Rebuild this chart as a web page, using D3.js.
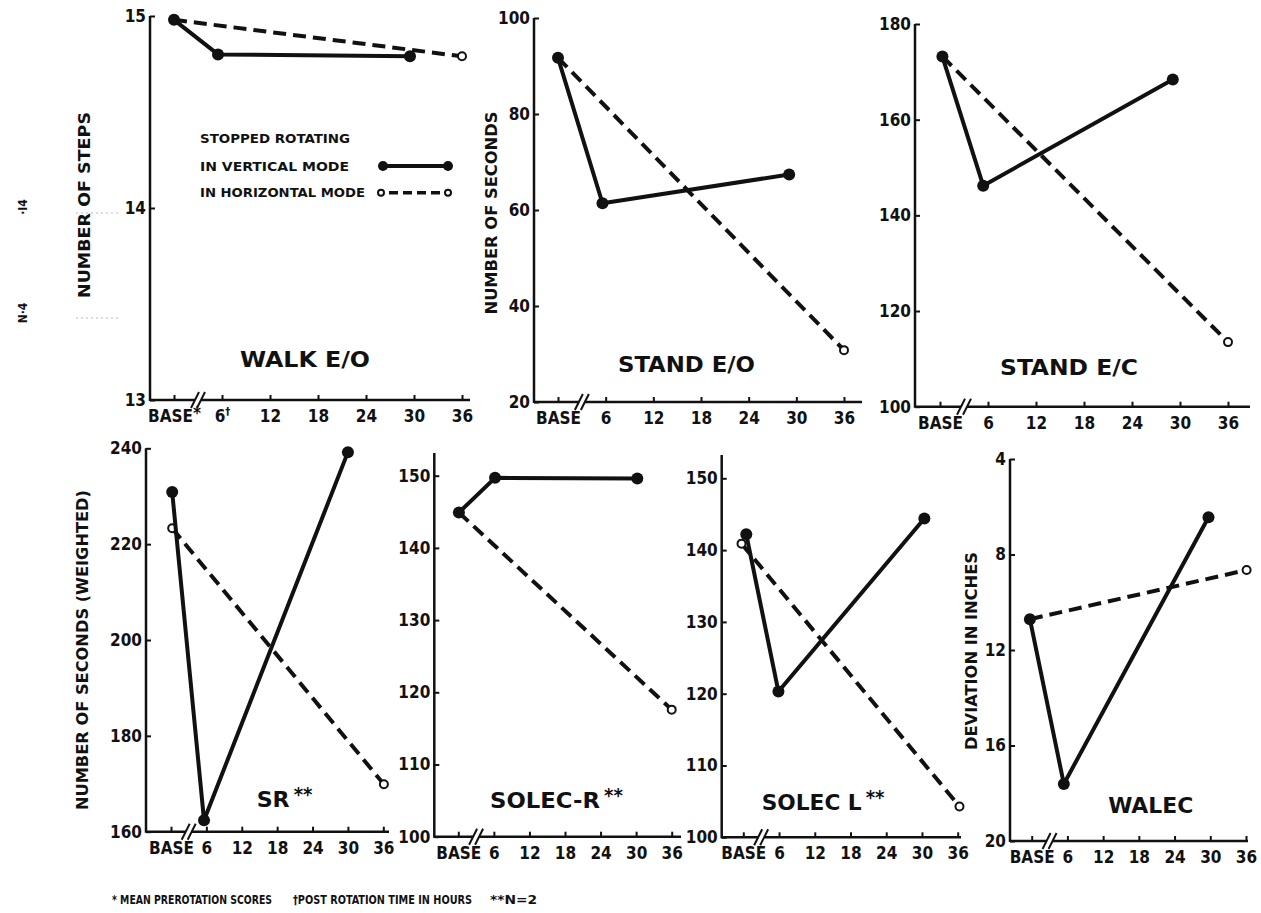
<!DOCTYPE html>
<html>
<head>
<meta charset="utf-8">
<script src="https://cdn.jsdelivr.net/npm/d3@7/dist/d3.min.js"></script>
<style>
  html, body { margin: 0; padding: 0; background: #fff; }
  svg { display: block; }
  text { fill: #111; font-family: "DejaVu Sans Condensed", "Liberation Sans Narrow", "DejaVu Sans", sans-serif; }
</style>
</head>
<body>
<svg id="chart" width="1261" height="913"></svg>
<script>
// ---- data ----------------------------------------------------------------
const titles      = ["WALK E/O", "STAND E/O", "STAND E/C", "SR", "SOLEC-R", "SOLEC L", "WALEC"];
const titleMarks  = ["", "", "", "**", "**", "**", ""];
const yLabels     = ["NUMBER OF STEPS", "NUMBER OF SECONDS", "", "NUMBER OF SECONDS (WEIGHTED)", "", "", "DEVIATION IN INCHES"];
const yDomains    = [[13, 15], [20, 100], [100, 180], [160, 240], [100, 150], [100, 150], [20, 4]];
const yTickValues = [
  [13, 14, 15],
  [20, 40, 60, 80, 100],
  [100, 120, 140, 160, 180],
  [160, 180, 200, 220, 240],
  [100, 110, 120, 130, 140, 150],
  [100, 110, 120, 130, 140, 150],
  [20, 16, 12, 8, 4]
];
const hourTicks  = [0, 6, 12, 18, 24, 30, 36];
const hourLabels = ["BASE", "6", "12", "18", "24", "30", "36"];

// stopped rotating in vertical mode (solid line, filled dots)
const verticalHours  = [[0, 5.5, 29.5], [0, 5.6, 29.1], [0.3, 5.4, 29.1], [0.2, 5.6, 30], [0.1, 6.2, 30.2], [0.5, 5.9, 30.4], [-0.3, 5.4, 29.7]];
const verticalScores = [[14.98, 14.80, 14.79], [91.7, 61.4, 67.4], [173.2, 146.2, 168.4], [230.9, 162.4, 239.2], [144.9, 149.7, 149.6], [142.2, 120.3, 144.4], [10.71, 17.61, 6.44]];
// stopped rotating in horizontal mode (dashed line, open dots)
const horizontalHours  = [[0, 36], [0, 36], [0.3, 36], [0.2, 36.1], [0.1, 36], [-0.3, 36.3], [-0.3, 36.1]];
const horizontalScores = [[14.98, 14.79], [91.7, 30.8], [173.2, 113.5], [223.3, 169.9], [144.9, 117.6], [140.9, 104.3], [10.71, 8.65]];

const legendTitle  = "STOPPED ROTATING";
const legendLabels = ["IN VERTICAL MODE", "IN HORIZONTAL MODE"];
const footnotes    = ["MEAN PREROTATION SCORES", "POST ROTATION TIME IN HOURS", "N=2"];

// ---- layout of the seven panels -------------------------------------------
const layout = [
  { axisX: 150,   axisTop: 16,    yRange: [400, 16],      xRange: [174, 462],      xEnd: 470,  ylab: [85, 205, 186],   title: [240, 367, 130] },
  { axisX: 534,   axisTop: 18,    yRange: [402, 18],      xRange: [558, 844],      xEnd: 862,  ylab: [491.5, 213, 203], title: [618, 372, 137] },
  { axisX: 915,   axisTop: 24,    yRange: [406.7, 24],    xRange: [940, 1228],     xEnd: 1250, ylab: null,             title: [1000, 375, 138] },
  { axisX: 146,   axisTop: 448.3, yRange: [831.7, 448.3], xRange: [171, 383.3],    xEnd: 389,  ylab: [83, 650, 320],   title: [256.7, 806.7, 33] },
  { axisX: 434.3, axisTop: 453,   yRange: [836.7, 475.7], xRange: [458.3, 671.7],  xEnd: 681,  ylab: null,             title: [490, 808, 110] },
  { axisX: 721.7, axisTop: 455,   yRange: [837.3, 478.3], xRange: [743.3, 957.7],  xEnd: 961,  ylab: null,             title: [761.7, 810, 100] },
  { axisX: 1010,  axisTop: 459,   yRange: [841, 459],     xRange: [1031.7, 1246],  xEnd: 1248, ylab: [971.7, 651, 198], title: [1108.3, 813.3, 85] }
];

const svg = d3.select("#chart");

svg.append("rect").attr("width", 1261).attr("height", 913).attr("fill", "#fff");

// faint scanning marks at far left
svg.append("text").attr("transform", "translate(27,207) rotate(-90)")
  .attr("text-anchor", "middle").style("font-size", "12px").style("font-weight", "bold").text("·I4");
svg.append("text").attr("transform", "translate(27,313) rotate(-90)")
  .attr("text-anchor", "middle").style("font-size", "12px").style("font-weight", "bold").text("N·4");
[213, 318].forEach(yy => {
  svg.append("line").attr("x1", 76).attr("x2", 120).attr("y1", yy).attr("y2", yy)
    .attr("stroke", "#bbb").attr("stroke-width", 1).attr("stroke-dasharray", "2,3");
});

titles.forEach((title, i) => {
  const L = layout[i];
  const g = svg.append("g");
  const x = d3.scaleLinear().domain([0, 36]).range(L.xRange);
  const y = d3.scaleLinear().domain(yDomains[i]).range(L.yRange);
  const bottom = L.yRange[0];

  // y axis
  const yAxis = d3.axisLeft(y).tickValues(yTickValues[i]).tickSizeInner(-5).tickSizeOuter(0).tickPadding(4)
    .tickFormat(d3.format("d"));
  const ya = g.append("g").attr("transform", `translate(${L.axisX},0)`).call(yAxis);
  ya.select(".domain").remove();
  ya.selectAll(".tick line").attr("stroke", "#111").attr("stroke-width", 2);
  ya.selectAll(".tick text").style("font-size", "17px").style("font-weight", "bold").attr("fill", "#111");
  g.append("line").attr("x1", L.axisX).attr("x2", L.axisX).attr("y1", L.axisTop).attr("y2", bottom + 1)
    .attr("stroke", "#111").attr("stroke-width", 2.5);

  // x axis
  const xAxis = d3.axisBottom(x).tickValues(hourTicks).tickSizeInner(-5).tickSizeOuter(0).tickPadding(10)
    .tickFormat((d, k) => hourLabels[k]);
  const xa = g.append("g").attr("transform", `translate(0,${bottom})`).call(xAxis);
  xa.select(".domain").remove();
  xa.selectAll(".tick line").attr("stroke", "#111").attr("stroke-width", 2);
  xa.selectAll(".tick text").style("font-size", "17px").style("font-weight", "bold").attr("fill", "#111");
  g.append("line").attr("x1", L.axisX).attr("x2", L.xEnd).attr("y1", bottom).attr("y2", bottom)
    .attr("stroke", "#111").attr("stroke-width", 2.5);

  if (i === 0) {
    // footnote markers on the first panel's hour labels
    xa.selectAll(".tick text").each(function (d) {
      const t = d3.select(this);
      if (d === 0) t.append("tspan").attr("dy", -3).style("font-size", "17px").style("font-weight", "bold").text("*");
      if (d === 6) t.append("tspan").attr("dy", -7).style("font-size", "11px").style("font-weight", "bold").text("†");
    });
  }

  // axis break between BASE and 6 hours
  const bx = x(3);
  g.append("rect").attr("x", bx - 3).attr("y", bottom - 3).attr("width", 6).attr("height", 6).attr("fill", "#fff");
  [-3, 3].forEach(o => {
    g.append("line").attr("x1", bx + o - 4).attr("x2", bx + o + 4).attr("y1", bottom + 8).attr("y2", bottom - 8)
      .attr("stroke", "#111").attr("stroke-width", 2);
  });

  // horizontal mode: dashed line, open circles
  const hPts = horizontalHours[i].map((h, k) => [x(h), y(horizontalScores[i][k])]);
  g.append("path").attr("d", d3.line()(hPts)).attr("fill", "none").attr("stroke", "#111")
    .attr("stroke-width", 4).attr("stroke-dasharray", "13,7");
  g.selectAll(".open").data(hPts).join("circle").attr("class", "open")
    .attr("cx", d => d[0]).attr("cy", d => d[1]).attr("r", 4)
    .attr("fill", "#fff").attr("stroke", "#111").attr("stroke-width", 2);

  // vertical mode: solid line, filled circles
  const vPts = verticalHours[i].map((h, k) => [x(h), y(verticalScores[i][k])]);
  g.append("path").attr("d", d3.line()(vPts)).attr("fill", "none").attr("stroke", "#111")
    .attr("stroke-width", 4).attr("stroke-linejoin", "round");
  g.selectAll(".filled").data(vPts).join("circle").attr("class", "filled")
    .attr("cx", d => d[0]).attr("cy", d => d[1]).attr("r", 6).attr("fill", "#111");

  // y-axis title
  if (L.ylab) {
    g.append("text").attr("transform", `translate(${L.ylab[0]},${L.ylab[1]}) rotate(-90)`)
      .attr("text-anchor", "middle").attr("dominant-baseline", "central")
      .attr("textLength", L.ylab[2]).attr("lengthAdjust", "spacingAndGlyphs")
      .style("font-size", "15px").style("font-weight", "bold").text(yLabels[i]);
  }

  // panel title
  const tt = g.append("text").attr("x", L.title[0]).attr("y", L.title[1])
    .style("font-size", "21px").style("font-weight", "bold");
  tt.append("tspan").attr("textLength", L.title[2]).attr("lengthAdjust", "spacingAndGlyphs").text(title);
  if (titleMarks[i]) {
    tt.append("tspan").attr("dx", 4).attr("dy", -6).style("font-size", "20px").text(titleMarks[i]);
  }
});

// legend inside the first panel
const lg = svg.append("g");
lg.append("text").attr("x", 200).attr("y", 143).attr("textLength", 150).attr("lengthAdjust", "spacingAndGlyphs")
  .style("font-size", "13px").style("font-weight", "bold").text(legendTitle);
lg.append("text").attr("x", 200).attr("y", 171).attr("textLength", 149).attr("lengthAdjust", "spacingAndGlyphs")
  .style("font-size", "13px").style("font-weight", "bold").text(legendLabels[0]);
lg.append("text").attr("x", 200).attr("y", 197).attr("textLength", 165).attr("lengthAdjust", "spacingAndGlyphs")
  .style("font-size", "13px").style("font-weight", "bold").text(legendLabels[1]);
lg.append("line").attr("x1", 383).attr("x2", 448).attr("y1", 166).attr("y2", 166)
  .attr("stroke", "#111").attr("stroke-width", 4);
[383, 448].forEach(cx => lg.append("circle").attr("cx", cx).attr("cy", 166).attr("r", 5).attr("fill", "#111"));
lg.append("line").attr("x1", 386).attr("x2", 444).attr("y1", 192.7).attr("y2", 192.7)
  .attr("stroke", "#111").attr("stroke-width", 3.5).attr("stroke-dasharray", "9,5").attr("stroke-dashoffset", -3);
[381, 448].forEach(cx => lg.append("circle").attr("cx", cx).attr("cy", 192.7).attr("r", 3)
  .attr("fill", "#fff").attr("stroke", "#111").attr("stroke-width", 2));

// footnotes
const fn = svg.append("g").style("font-size", "12px").style("font-weight", "bold");
fn.append("text").attr("x", 112).attr("y", 904).attr("textLength", 160).attr("lengthAdjust", "spacingAndGlyphs")
  .text("* " + footnotes[0]);
fn.append("text").attr("x", 293).attr("y", 904).attr("textLength", 179).attr("lengthAdjust", "spacingAndGlyphs")
  .text("†" + footnotes[1]);
fn.append("text").attr("x", 490).attr("y", 904).attr("textLength", 47).attr("lengthAdjust", "spacingAndGlyphs")
  .text("**" + footnotes[2]);
</script>
</body>
</html>
